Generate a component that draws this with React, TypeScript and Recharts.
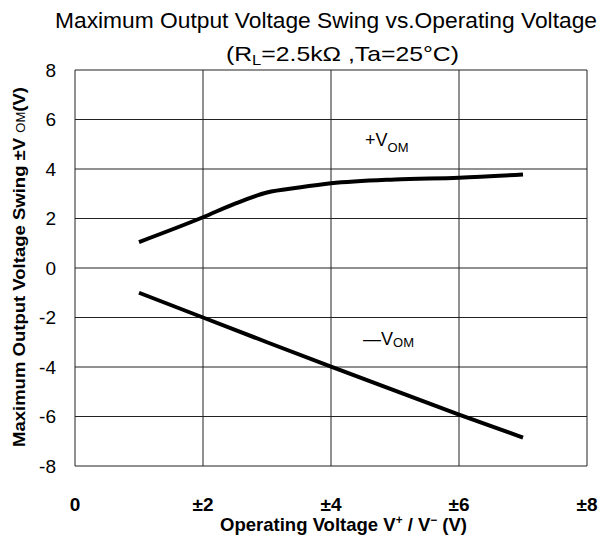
import React from 'react';
import { LineChart, Line, XAxis, YAxis, CartesianGrid } from 'recharts';

const posX = [1, 2, 2.5, 3, 3.5, 4, 5, 6, 7];
const posY = [1.05, 2.05, 2.6, 3.05, 3.25, 3.42, 3.58, 3.65, 3.78];
const negX = [1, 2, 3, 4, 5, 6, 7];
const negY = [-1, -2, -3, -3.98, -4.95, -5.92, -6.85];
const xTicks = [0, 2, 4, 6, 8];
const yTicks = [-8, -6, -4, -2, 0, 2, 4, 6, 8];

const posData = posX.map((x, i) => ({ x, y: posY[i] }));
const negData = negX.map((x, i) => ({ x, y: negY[i] }));

const FONT = '"Liberation Sans", Arial, sans-serif';

export default function App() {
  return (
    <div style={{ position: 'absolute', left: 0, top: 0, width: 602, height: 545, background: '#fff' }}>
      <LineChart
        width={602}
        height={545}
        margin={{ top: 70, right: 15, left: 0, bottom: 0 }}
      >
        <CartesianGrid stroke="#222" strokeWidth={1} horizontalValues={yTicks} verticalValues={xTicks} />
        <XAxis
          type="number"
          dataKey="x"
          domain={[0, 8]}
          ticks={xTicks}
          height={79}
          axisLine={false}
          tickLine={false}
          tickSize={0}
          tickMargin={32}
          tickFormatter={(v: number) => (v === 0 ? '0' : '\u00B1' + v)}
          tick={{ fill: '#000', fontSize: 19, fontWeight: 'bold', fontFamily: FONT }}
          allowDuplicatedCategory={false}
        />
        <YAxis
          type="number"
          dataKey="y"
          domain={[-8, 8]}
          ticks={yTicks}
          width={75}
          axisLine={false}
          tickLine={false}
          tickSize={0}
          tickMargin={19}
          tick={{ fill: '#000', fontSize: 19, fontFamily: FONT }}
        />
        <Line data={posData} dataKey="y" type="monotone" stroke="#000" strokeWidth={4} dot={false} isAnimationActive={false} />
        <Line data={negData} dataKey="y" type="linear" stroke="#000" strokeWidth={4} dot={false} isAnimationActive={false} />
      </LineChart>
      <svg width={602} height={545} style={{ position: 'absolute', left: 0, top: 0, pointerEvents: 'none' }}>
        <text x={55} y={28} textLength={542} lengthAdjust="spacingAndGlyphs" fontFamily={FONT} fontSize={22} fill="#000">
          Maximum Output Voltage Swing vs.Operating Voltage
        </text>
        <text x={226} y={61} textLength={233} lengthAdjust="spacingAndGlyphs" fontFamily={FONT} fontSize={21} fill="#000">
          (R<tspan fontSize={14} dy={4}>L</tspan><tspan dy={-4}>=2.5k&#937; ,Ta=25&#176;C)</tspan>
        </text>
        <text x={220} y={531} textLength={247} lengthAdjust="spacingAndGlyphs" fontFamily={FONT} fontSize={19} fontWeight="bold" fill="#000">
          Operating Voltage V<tspan fontSize={12} dy={-7}>+</tspan><tspan dy={7}> / V</tspan><tspan fontSize={12} dy={-7}>&#8722;</tspan><tspan dy={7}> (V)</tspan>
        </text>
        <text transform="translate(25,447) rotate(-90)" textLength={360} lengthAdjust="spacingAndGlyphs" fontFamily={FONT} fontSize={17} fontWeight="bold" fill="#000">
          Maximum Output Voltage Swing &#177;V <tspan fontSize={12} fontWeight="normal">OM</tspan>(V)
        </text>
        <text x={365} y={146} fontFamily={FONT} fontSize={18} fill="#000">
          +V<tspan fontSize={13} dy={6}>OM</tspan>
        </text>
        <text x={363} y={345} fontFamily={FONT} fontSize={18} fill="#000">
          &#8212;V<tspan fontSize={13} dy={2}>OM</tspan>
        </text>
      </svg>
    </div>
  );
}
